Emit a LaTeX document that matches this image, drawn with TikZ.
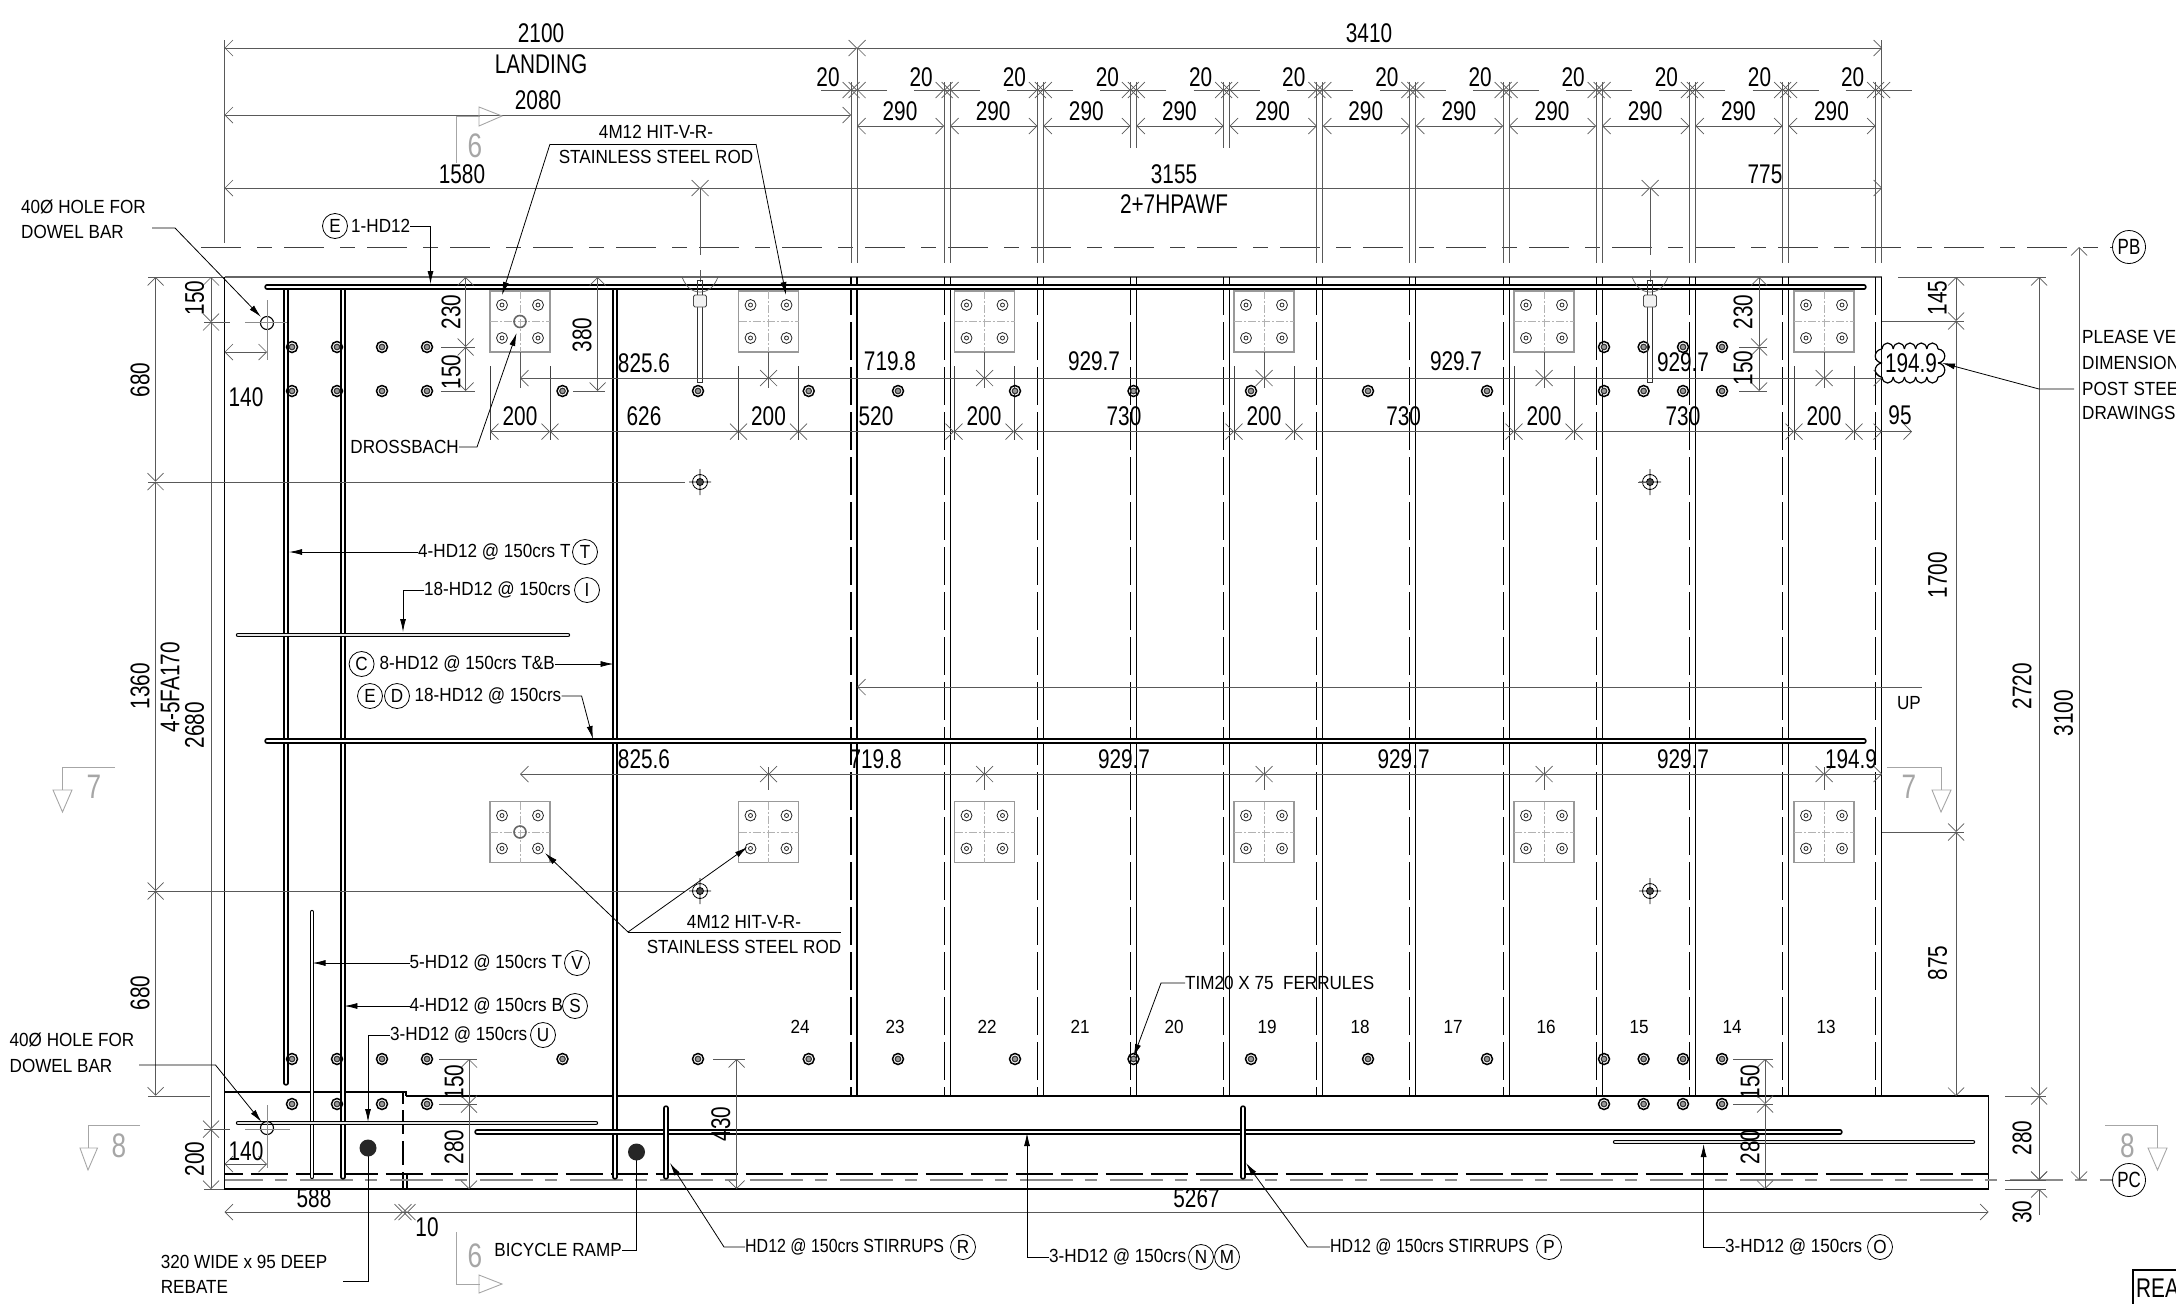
\documentclass[tikz,border=0pt]{standalone}
\usepackage{fontspec}
\newfontfamily\dimfont[FakeStretch=0.77]{Liberation Sans}
\newfontfamily\lblfont[FakeStretch=0.9]{Liberation Sans}
\newfontfamily\stirfont[FakeStretch=0.84]{Liberation Sans}
\usetikzlibrary{arrows.meta}
\definecolor{dimgrey}{gray}{0.35}
\definecolor{secgrey}{gray}{0.65}
\tikzset{
  dimtip/.tip={Straight Barb[length=8pt,width=16pt,line width=.7pt]},
  dimline/.style={draw=dimgrey,line width=1pt,dimtip-dimtip},
  extline/.style={draw=dimgrey,line width=.9pt},
  plateline/.style={draw=black!40,line width=1.2pt},
  crossline/.style={draw=black!30,line width=.7pt,dash pattern=on 8pt off 2pt on 2pt off 2pt},
  leader/.style={draw=black,line width=.8pt,-{Latex[length=13pt,width=6pt]}},
  plainlead/.style={draw=black,line width=.8pt},
  puffline/.style={draw=black,line width=1.2pt},
  bar/.style={draw=black,line width=1.5pt,double=white,double distance=2.4pt,line cap=round},
  thinbar/.style={draw=black,line width=1.1pt,double=black!10,double distance=2.2pt,line cap=round},
  edgeline/.style={draw=black,line width=1.3pt},
  dim_txt/.style={font=\dimfont\fontsize{27}{27}\selectfont,inner sep=0pt},
  dim_rot/.style={dim_txt,rotate=90},
  lbl_txt/.style={font=\lblfont\fontsize{19}{19}\selectfont,inner sep=0pt},
  stir_txt/.style={font=\stirfont\fontsize{19}{19}\selectfont,inner sep=0pt},
  sec_txt/.style={font=\dimfont\fontsize{34}{34}\selectfont,text=secgrey,inner sep=0pt},
  tag/.style={circle,draw,line width=.8pt,minimum size=25pt,inner sep=0pt,font=\lblfont\fontsize{19}{19}\selectfont},
  grid_tag/.style={tag,minimum size=33pt,font=\dimfont\fontsize{22}{22}\selectfont},
  secline/.style={draw=secgrey,line width=.9pt},
}
\begin{document}
\begin{tikzpicture}[x=1pt,y=-1pt]
    \useasboundingbox (0,0) rectangle (2176,1304) ; %
% slab outline
    \draw[draw=black!60,line width=1.6pt] (224.5,277) -- (1882,277) ; %
    \draw[edgeline] (224.5,277) -- (224.5,1189) -- (1988.5,1189) -- (1988.5,1096) -- (406,1096) ; %
    \draw[edgeline] (224.5,1092) -- (406,1092) -- (406,1096) ; %
    \draw[edgeline] (403,1092) -- (403,1104) (403,1174) -- (403,1189) (407,1174) -- (407,1189) ; %
    \draw[edgeline,dash pattern=on 24pt off 7pt] (403,1110) -- (403,1174) ; %
    \draw[draw=black,line width=1.5pt,dash pattern=on 37pt off 8pt,dash phase=19pt] (224.5,1174) -- (1988.5,1174) ; %
    \draw[draw=black!45,line width=1.3pt,dash pattern=on 53pt off 12pt on 12pt off 13pt,dash phase=15pt] (224.5,1180) -- (2113,1180) ; %
    \draw[draw=black!75,line width=.9pt,dash pattern=on 40pt off 16pt on 15pt off 12pt] (201,247) -- (2113,247) ; %
% stair joints
    \foreach \k in {0,...,11} {
      \pgfmathsetmacro\jx{857+93.15*\k}
      \draw[edgeline,line width=1.1pt] (\jx,277) -- (\jx,1096) ; %
      \draw[edgeline,line width=1.1pt,dash pattern=on 38pt off 7pt] (\jx-6,277) -- (\jx-6,1096) ; %
      \draw[dimline,-dimtip] (\jx+2,90) -- (\jx-6,90) ; %
      \draw[dimline,-dimtip] (\jx-8,90) -- (\jx,90) ; %
      \draw[dimline,-dimtip] (\jx-36,90) -- (\jx-6,90) ; %
      \draw[dimline,-dimtip] (\jx+30,90) -- (\jx,90) ; %
      \node[dim_txt] (gap_\k) at (\jx-29,77) {20} ; %
    }
    \foreach \k/\top/\low in {0/48/263,1/82/263,2/82/263,3/82/148,4/82/148,5/82/263,6/82/263,7/82/263,8/82/263,9/82/263,10/82/263,11/40/263} {
      \pgfmathsetmacro\jx{857+93.15*\k}
      \draw[extline] (\jx,\top) -- (\jx,\low) ; %
      \draw[extline] (\jx-6,82) -- (\jx-6,\low) ; %
    }
    \foreach \k in {0,...,10} {
      \pgfmathsetmacro\jx{857+93.15*\k}
      \draw[dimline] (\jx,126) -- (\jx+87.15,126) ; %
      \node[dim_txt] (tread_\k) at (\jx+43,111) {290} ; %
    }
% bars
    \draw[bar] (286,289) -- (286,1083) ; %
    \draw[bar] (343,289) -- (343,1177) ; %
    \draw[bar] (615,289) -- (615,1177) ; %
    \draw[thinbar,double=white] (312,912) -- (312,1177) ; %
    \draw[bar] (267,287) -- (1864,287) ; %
    \draw[draw=black,line width=2.4pt] (267,285) -- (1864,285) ; %
    \draw[bar] (267,741) -- (1864,741) ; %
    \draw[draw=black,line width=2.4pt] (267,739) -- (1864,739) ; %
    \draw[thinbar] (238,635) -- (568,635) ; %
    \draw[thinbar] (238,1123) -- (596,1123) ; %
    \draw[bar] (477,1132) -- (1840,1132) ; %
    \draw[thinbar] (1615,1142) -- (1973,1142) ; %
    \draw[bar] (666,1108) -- (666,1177) ; %
    \draw[bar] (1243,1108) -- (1243,1177) ; %
% plates
    \foreach \px in {520,768.5,984.5,1264,1544,1824} {
      \foreach \py in {321.5,832} {
        \draw[plateline] (\px-30,\py-30.5) rectangle (\px+30,\py+30.5) ; %
        \draw[crossline] (\px-30,\py) -- (\px+30,\py) (\px,\py-30.5) -- (\px,\py+30.5) ; %
        \foreach \sx in {-18,18} \foreach \sy in {-16.5,16.5} {
          \draw[draw=black!85,line width=.8pt] (\px+\sx,\py+\sy) circle (5.5pt) (\px+\sx,\py+\sy) circle (2pt) ; %
        }
      }
      \draw[extline,line width=.8pt] (\px,352) -- (\px,388) ; %
      \draw[extline,draw=black!75] (\px-30,366) -- (\px-30,440) (\px+30,366) -- (\px+30,440) ; %
    }
    \draw[draw=black!60,line width=1.6pt] (520,321.5) circle (6pt) (520,832) circle (6pt) ; %
% ferrules
    \foreach \fy/\flist in {347/{292,337,382,427,1604,1643.6,1683,1722},
        391/{292,337,382,427,562.5,698,808.7,898,1015,1133.5,1251,1368,1487,1604,1643.6,1683,1722},
        1059/{292,337,382,427,562.5,698,808.7,898,1015,1133.5,1251,1368,1487,1604,1643.6,1683,1722},
        1104/{292,337,382,427,1604,1643.6,1683,1722}} {
      \foreach \fx in \flist {
        \draw[draw=black,line width=1.5pt] (\fx,\fy) circle (5.5pt) ; %
        \draw[draw=black!80,fill=black!40,line width=1.1pt] (\fx,\fy) circle (2.8pt) ; %
      }
    }
% anchor rods
    \foreach \rx in {700,1650} {
      \draw[extline,line width=.8pt] (\rx,188) -- (\rx,255) (\rx,270) -- (\rx,282) ; %
      \draw[draw=black!80,line width=.9pt] (\rx-2.7,280) rectangle (\rx+2.7,382) ; %
      \draw[draw=black!70,fill=black!5,line width=.9pt,rounded corners=1.5pt] (\rx-6.5,295) rectangle (\rx+6.5,307) ; %
      \draw[extline,line width=.7pt] (\rx-18,277) .. controls (\rx-14,287) and (\rx-8,292) .. (\rx,292) .. controls (\rx+8,292) and (\rx+14,287) .. (\rx+18,277) ; %
      \foreach \cy in {482,891} {
        \draw[draw=black,line width=.8pt] (\rx,\cy) circle (7.5pt) (\rx-11,\cy) -- (\rx+11,\cy) (\rx,\cy-13) -- (\rx,\cy+13) ; %
        \draw[draw=black,fill=black!70,line width=.8pt] (\rx,\cy) circle (3.5pt) ; %
      }
    }
% holes
    \draw[draw=black,line width=1.1pt] (267,323) circle (6.5pt) (267,1128) circle (6.5pt) ; %
    \draw[draw=black!45,line width=.7pt] (245,322) -- (287,322) (267,300) -- (267,360) (245,1129) -- (290,1129) (267,1105) -- (267,1168) ; %
% dimensions
    \foreach \xa/\ya/\xb/\yb in {224.5/48/857/48, 857/48/1882/48, 224.5/115/851/115,
        224.5/188/700/188, 700/188/1650/188, 1650/188/1882/188,
        211/277/211/322, 211/322/211/1129, 211/1129/211/1189,
        155.6/277/155.6/481.6, 155.6/481.6/155.6/891, 155.6/891/155.6/1095.7,
        224.5/352/267/352, 224.5/1164/267/1164,
        465.6/277/465.6/347, 465.6/347/465.6/391, 597.6/277/597.6/391,
        1759/277/1759/347, 1759/347/1759/391,
        469/1059/469/1104, 469/1104/469/1189, 736.6/1059/736.6/1189,
        1765/1059/1765/1104, 1765/1104/1765/1189,
        520/378/768.5/378, 768.5/378/984.5/378, 984.5/378/1264/378, 1264/378/1544/378, 1544/378/1824/378, 1824/378/1882/378,
        490/431.7/550/431.7, 550/431.7/738.5/431.7, 738.5/431.7/798.5/431.7, 798.5/431.7/954/431.7, 954/431.7/1014/431.7,
        1014/431.7/1234/431.7, 1234/431.7/1294/431.7, 1294/431.7/1514/431.7, 1514/431.7/1574/431.7, 1574/431.7/1794/431.7,
        1794/431.7/1854/431.7, 1854/431.7/1882/431.7,
        520/774/768.5/774, 768.5/774/984.5/774, 984.5/774/1264/774, 1264/774/1544/774, 1544/774/1824/774, 1824/774/1882/774,
        1956/277/1956/321, 1956/321/1956/832, 1956/832/1956/1096,
        2039/277/2039/1096, 2039/1096/2039/1180, 2079/247/2079/1180,
        224.5/1212/403/1212, 407/1212/1988.5/1212} {
      \draw[dimline] (\xa,\ya) -- (\xb,\yb) ; %
    }
    \draw[dimline,-dimtip] (2039,1215) -- (2039,1189) ; %
    \draw[dimline,-dimtip] (2039,1170) -- (2039,1180) ; %
    \draw[dimline,-dimtip] (1882,431.7) -- (1912,431.7) ; %
    \draw[dimline,-dimtip] (395,1212) -- (407,1212) ; %
    \draw[dimline,-dimtip] (412,1212) -- (403,1212) ; %
    \draw[dimline,dimtip-] (857,687) -- (1922,687) ; %
% extension lines
    \foreach \xa/\ya/\xb/\yb in {224.5/40/224.5/243, 148/277/224/277, 148/1096/210/1096, 204/322/230/322, 204/1129/230/1129, 204/1189/224/1189,
        148/482/685/482, 148/891/685/891, 1650/482/1638/482,
        441/347/475/347, 441/391/475/391, 573/391/605/391, 1739/391/1767/391, 1739/347/1767/347,
        439/1059/477/1059, 439/1104/477/1104, 713/1059/745/1059, 1733/1059/1773/1059, 1733/1104/1773/1104,
        1898/277/2046/277, 2005/1096/2046/1096, 2005/1180/2046/1180, 2005/1189/2046/1189,
        1882/321/1964/321, 1882/832/1964/832, 1882/431.7/1912/431.7} {
      \draw[extline] (\xa,\ya) -- (\xb,\yb) ; %
    }
    \foreach \cx in {768.5,984.5,1264,1544,1824} {
      \draw[extline,line width=.7pt] (\cx,767) -- (\cx,790) ; %
    }
% dimension texts
    \foreach \x/\y/\t [count=\n] in {541/33/2100, 1369/33/3410, 541/64/LANDING, 538/100/2080,
        462/174/1580, 1174/174/3155, 1174/204/2+7HPAWF, 1765/174/775,
        246/397/140, 246/1151/140, 644/363/825.6, 890/361/719.8, 1094/361/929.7, 1456/361/929.7, 1683/362/929.7,
        520/416/200, 644/416/626, 768.5/416/200, 876/416/520, 984/416/200, 1124/416/730, 1264/416/200,
        1403.6/416/730, 1544/416/200, 1683/416/730, 1824/416/200, 1900/415/95,
        644/759/825.6, 875.6/759/719.8, 1124/759/929.7, 1403.6/759/929.7, 1683/759/929.7, 1851/759/194.9,
        314/1198/588, 427/1227/10, 1196.5/1198/5267} {
      \node[dim_txt] (size_\n) at (\x,\y) {\t} ; %
    }
    \foreach \x/\y/\t [count=\n] in {194.5/298/150, 140/380/680, 140/686/1360, 170/687/4-5FA170, 194.5/725/2680, 140/993/680,
        451/312/230, 451/372/150, 582/335/380, 1743/312/230, 1743/368/150,
        194.5/1159/200, 454/1082/150, 454/1147/280, 720.7/1124/430, 1750/1082/150, 1750/1147/280,
        1937.5/298/145, 1937.5/575/1700, 1937.5/963/875, 2022/686/2720, 2022/1138/280, 2022/1212/30, 2063.6/713/3100} {
      \node[dim_rot] (level_\n) at (\x,\y) {\t} ; %
    }
    \foreach \x/\t [count=\n] in {800/24, 895/23, 987/22, 1080/21, 1174/20, 1267/19, 1360/18, 1453/17, 1546/16, 1639/15, 1732/14, 1826/13} {
      \node[lbl_txt] (step_\n) at (\x,1027) {\t} ; %
    }
    \node[lbl_txt] (up_mark) at (1909,703) {UP} ; %
% grid bubbles
    \node[grid_tag] (pb) at (2129,247) {PB} ; %
    \node[grid_tag] (pc) at (2129,1180) {PC} ; %
% notes
    \node[lbl_txt,anchor=west] (hole_top) at (21,207) {40Ø HOLE FOR} ; %
    \node[lbl_txt,anchor=west] (hole_top2) at (21,232) {DOWEL BAR} ; %
    \node[lbl_txt,anchor=west] (hole_low) at (9.5,1040) {40Ø HOLE FOR} ; %
    \node[lbl_txt,anchor=west] (hole_low2) at (9.5,1066) {DOWEL BAR} ; %
    \node[lbl_txt] (rod_top) at (656,132) {4M12 HIT-V-R-} ; %
    \node[lbl_txt] (rod_top2) at (656,157) {STAINLESS STEEL ROD} ; %
    \node[lbl_txt] (rod_low) at (744,922) {4M12 HIT-V-R-} ; %
    \node[lbl_txt] (rod_low2) at (744,947) {STAINLESS STEEL ROD} ; %
    \node[lbl_txt,anchor=east] (dross) at (459,447) {DROSSBACH} ; %
    \node[tag] (tag_e) at (335,226) {E} ; %
    \node[lbl_txt,anchor=west] (bar_e) at (351,226) {1-HD12} ; %
    \node[lbl_txt,anchor=west] (bar_t) at (418,552) {4-HD12 @ 150crs T} ; %
    \node[tag] (tag_t) at (585,552) {T} ; %
    \node[lbl_txt,anchor=west] (bar_i) at (424,590) {18-HD12 @ 150crs} ; %
    \node[tag] (tag_i) at (587,590) {I} ; %
    \node[tag] (tag_c) at (361.6,664) {C} ; %
    \node[lbl_txt,anchor=west] (bar_c) at (379.5,664) {8-HD12 @ 150crs T\&B} ; %
    \node[tag] (tag_e2) at (370,696) {E} ; %
    \node[tag] (tag_d) at (397,696) {D} ; %
    \node[lbl_txt,anchor=west] (bar_d) at (414.5,696) {18-HD12 @ 150crs} ; %
    \node[lbl_txt,anchor=west] (bar_v) at (409.5,963) {5-HD12 @ 150crs T} ; %
    \node[tag] (tag_v) at (577,963) {V} ; %
    \node[lbl_txt,anchor=west] (bar_s) at (409.5,1006) {4-HD12 @ 150crs B} ; %
    \node[tag] (tag_s) at (575,1006) {S} ; %
    \node[lbl_txt,anchor=west] (bar_u) at (390,1035) {3-HD12 @ 150crs} ; %
    \node[tag] (tag_u) at (543,1035) {U} ; %
    \node[lbl_txt,anchor=west] (rebate) at (160.7,1262) {320 WIDE x 95 DEEP} ; %
    \node[lbl_txt,anchor=west] (rebate2) at (160.7,1287) {REBATE} ; %
    \node[lbl_txt,anchor=east] (ramp) at (622,1250) {BICYCLE RAMP} ; %
    \node[stir_txt,anchor=west] (stir_r) at (745,1247) {HD12 @ 150crs STIRRUPS} ; %
    \node[tag] (tag_r) at (963,1247) {R} ; %
    \node[stir_txt,anchor=west] (stir_p) at (1330,1247) {HD12 @ 150crs STIRRUPS} ; %
    \node[tag] (tag_p) at (1549,1247) {P} ; %
    \node[lbl_txt,anchor=west] (bar_n) at (1049,1257) {3-HD12 @ 150crs} ; %
    \node[tag] (tag_n) at (1201,1257) {N} ; %
    \node[tag] (tag_m) at (1227,1257) {M} ; %
    \node[lbl_txt,anchor=west] (bar_o) at (1725,1247) {3-HD12 @ 150crs} ; %
    \node[tag] (tag_o) at (1880,1247) {O} ; %
    \node[lbl_txt,anchor=west] (ferrule_note) at (1185,983) {TIM20 X 75 \ FERRULES} ; %
    \node[lbl_txt,anchor=west] (verify1) at (2082,337) {PLEASE VE} ; %
    \node[lbl_txt,anchor=west] (verify2) at (2082,363) {DIMENSION} ; %
    \node[lbl_txt,anchor=west] (verify3) at (2082,389) {POST STEE} ; %
    \node[lbl_txt,anchor=west] (verify4) at (2082,413) {DRAWINGS} ; %
    \node[dim_txt,outer sep=3pt] (cloud_dim) at (1911,363) {194.9} ; %
    \foreach \i in {0,...,4} {
      \pgfmathsetmacro\cx{1882+11.2*\i}
      \draw[puffline] (\cx,349) .. controls (\cx+1,341) and (\cx+10.2,341) .. (\cx+11.2,349) ; %
      \draw[puffline] (\cx,377) .. controls (\cx+1,385) and (\cx+10.2,385) .. (\cx+11.2,377) ; %
    }
    \foreach \i in {0,1} {
      \pgfmathsetmacro\cy{349+14*\i}
      \draw[puffline] (1938,\cy) .. controls (1947,\cy+1) and (1947,\cy+13) .. (1938,\cy+14) ; %
      \draw[puffline] (1882,\cy) .. controls (1873,\cy+1) and (1873,\cy+13) .. (1882,\cy+14) ; %
    }
    \node[dim_txt,anchor=west] (title_mark) at (2136,1288) {REA} ; %
    \draw[draw=black,line width=1.2pt] (2176,1270) -- (2133,1270) -- (2133,1304) ; %
% leaders
    \draw[plainlead] (550,144) -- (756,144) ; %
    \draw[leader] (550,144) -- (502,295) ; %
    \draw[leader] (756,144) -- (786,295) ; %
    \draw[plainlead] (628,932) -- (840.5,932) ; %
    \draw[leader] (628,932) -- (545,853) ; %
    \draw[leader] (628,932) -- (747.5,847) ; %
    \draw[leader] (152,228) -- (175,228) -- (261,317) ; %
    \draw[leader] (139,1065) -- (215.5,1065) -- (261.5,1122) ; %
    \draw[leader] (bar_e.east) -| (430.5,284) ; %
    \draw[leader] (bar_t.west) -- (289,552) ; %
    \draw[leader] (bar_i.west) -| (403,632) ; %
    \draw[leader] (bar_c.east) -- (613.5,664) ; %
    \draw[leader] (bar_d.east) -- (581.6,696) -- (593,739) ; %
    \draw[leader] (bar_v.west) -- (312.5,963) ; %
    \draw[leader] (bar_s.west) -- (344.4,1006) ; %
    \draw[leader] (bar_u.west) -| (368,1122) ; %
    \draw[plainlead] (343,1281) -- (368,1281) -- (368,1148) ; %
    \draw[plainlead] (ramp.east) -| (636.5,1152) ; %
    \draw[leader] (stir_r.west) -- (724,1247) -- (670,1163) ; %
    \draw[leader] (stir_p.west) -- (1307.6,1247) -- (1246,1163) ; %
    \draw[leader] (bar_n.west) -| (1027,1133) ; %
    \draw[leader] (bar_o.west) -| (1703.6,1144) ; %
    \draw[leader] (ferrule_note.west) -- (1161,983) -- (1133.5,1057) ; %
    \draw[leader] (dross.east) -- (477,447) -- (516.6,333) ; %
    \draw[leader] ([xshift=-8pt]verify3.west) -- (2039,389) -- ([xshift=2pt]cloud_dim.east) ; %
    \fill[black!85] (368,1148) circle (8.5pt) (636.5,1152) circle (8.5pt) ; %
% section marks
    \draw[secline] (456,163) -- (456,116) -- (480,116) ; %
    \draw[secline] (479,107) -- (502,116) -- (479,126) -- cycle ; %
    \node[sec_txt] (sec_6a) at (475,146) {6} ; %
    \draw[secline] (456,1232) -- (456,1284) -- (480,1284) ; %
    \draw[secline] (479,1275) -- (502,1284) -- (479,1293) -- cycle ; %
    \node[sec_txt] (sec_6b) at (475,1256) {6} ; %
    \draw[secline] (115,767) -- (62.5,767) -- (62.5,790) ; %
    \draw[secline] (53,790) -- (72,790) -- (62.5,812) -- cycle ; %
    \node[sec_txt] (sec_7a) at (94,787) {7} ; %
    \draw[secline] (1887,767) -- (1941,767) -- (1941,790) ; %
    \draw[secline] (1932,790) -- (1951,790) -- (1941,812) -- cycle ; %
    \node[sec_txt] (sec_7b) at (1909,787) {7} ; %
    \draw[secline] (140,1125) -- (88,1125) -- (88,1148) ; %
    \draw[secline] (80,1148) -- (97.5,1148) -- (88,1170) -- cycle ; %
    \node[sec_txt] (sec_8a) at (119,1146) {8} ; %
    \draw[secline] (2105,1125) -- (2157.5,1125) -- (2157.5,1148) ; %
    \draw[secline] (2148,1148) -- (2167,1148) -- (2157.5,1170) -- cycle ; %
    \node[sec_txt] (sec_8b) at (2127.5,1146) {8} ; %
\end{tikzpicture}
\end{document}
